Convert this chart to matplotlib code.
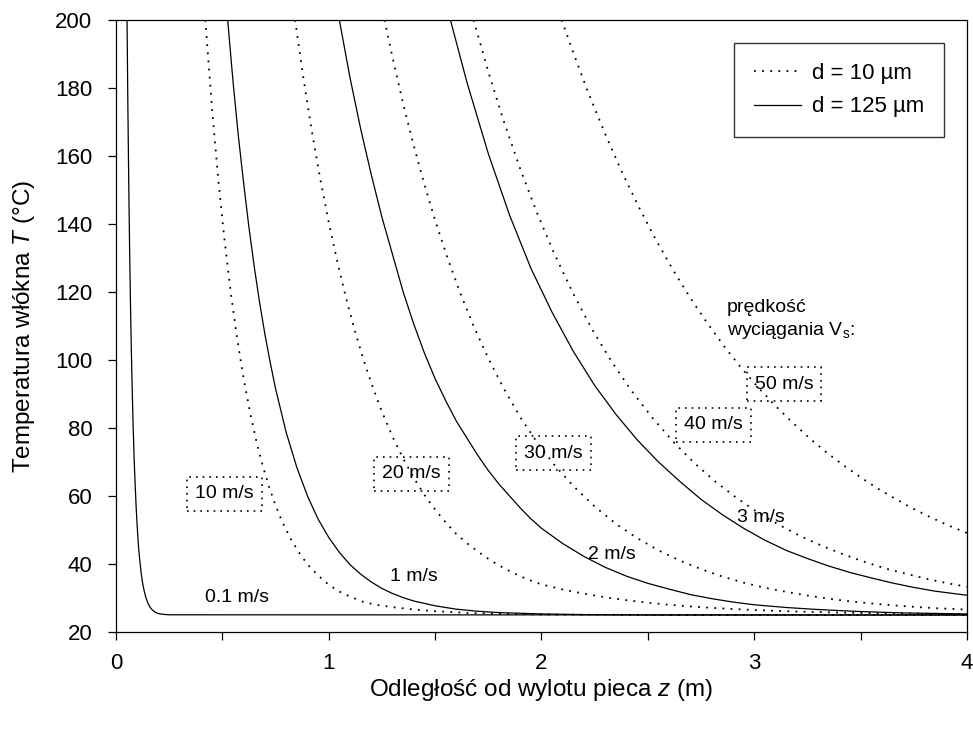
import numpy as np
import matplotlib.pyplot as plt

plt.rcParams['font.family'] = ['Liberation Sans', 'DejaVu Sans']
plt.rcParams['mathtext.fontset'] = 'custom'
plt.rcParams['mathtext.rm'] = 'Liberation Sans'
plt.rcParams['mathtext.it'] = 'Liberation Sans:italic'

# --- fibre d = 125 um (solid): z (m), T (C)
z_01 = [0.052, 0.056, 0.060, 0.064, 0.068, 0.072, 0.076, 0.080, 0.085, 0.090, 0.095,
        0.100, 0.106, 0.112, 0.118, 0.125, 0.132, 0.140, 0.150, 0.160, 0.172, 0.185,
        0.20, 0.22, 0.25, 4.0]
T_01 = [200, 174, 152, 133, 117, 103.5, 92, 82, 71.5, 63.5, 56.5,
        50.7, 45, 41, 37.5, 34.5, 32.2, 30.2, 28.5, 27.3, 26.4, 25.8,
        25.4, 25.2, 25.05, 25]

z_1 = [0.525, 0.55, 0.575, 0.60, 0.625, 0.65, 0.675, 0.70, 0.725, 0.75, 0.80, 0.85,
       0.90, 0.95, 1.00, 1.05, 1.10, 1.15, 1.20, 1.25, 1.30, 1.35, 1.40, 1.50,
       1.60, 1.70, 1.80, 1.90, 2.00, 2.20, 2.50, 4.0]
T_1 = [200, 182, 166, 152, 139, 127.4, 116.9, 107.6, 99.2, 91.6, 78.7, 68.4,
       60, 53.2, 47.8, 43.4, 39.8, 37, 34.7, 32.8, 31.3, 30.1, 29.1, 27.7,
       26.7, 26.1, 25.7, 25.5, 25.3, 25.1, 25.0, 25]

z_2 = [1.05, 1.10, 1.15, 1.20, 1.25, 1.30, 1.35, 1.40, 1.45, 1.50, 1.55, 1.60,
       1.65, 1.70, 1.75, 1.80, 1.85, 1.90, 1.95, 2.00, 2.10, 2.20, 2.30, 2.40,
       2.50, 2.60, 2.70, 2.80, 2.90, 3.00, 3.15, 3.30, 3.50, 3.70, 4.0]
T_2 = [200, 183, 168, 154.5, 142, 131, 120, 110.5, 102, 94.5, 88, 82,
       77, 72, 67.5, 63.5, 60, 56.5, 53.3, 50.5, 46, 42.2, 39, 36.4,
       34.3, 32.6, 31, 29.8, 28.8, 28, 27.2, 26.6, 26, 25.6, 25.3]

z_3 = [1.572, 1.65, 1.75, 1.85, 1.95, 2.05, 2.15, 2.25, 2.35, 2.45, 2.55, 2.65,
       2.75, 2.85, 2.95, 3.05, 3.15, 3.25, 3.35, 3.45, 3.55, 3.65, 3.75, 3.85, 4.0]
T_3 = [200, 181.6, 160.7, 142.6, 127, 114, 102.5, 92.5, 84, 76.5, 70, 64.3,
       59, 54.5, 50.5, 47, 44, 41.6, 39.4, 37.5, 35.9, 34.4, 33.1, 32, 30.8]

# --- fibre d = 10 um (dotted)
z_10 = [0.42, 0.45, 0.48, 0.51, 0.54, 0.57, 0.60, 0.63, 0.66, 0.69, 0.72, 0.75,
        0.78, 0.82, 0.86, 0.90, 0.95, 1.00, 1.05, 1.10, 1.16, 1.22, 1.30, 1.40,
        1.50, 1.65, 1.85, 2.10, 2.50, 4.0]
T_10 = [200, 175, 153.6, 135.3, 119.6, 106.1, 94.5, 84.6, 76.1, 68.8, 62.6, 57.2,
        52.6, 47.5, 43.4, 39.9, 36.6, 33.9, 31.9, 30.4, 28.9, 28, 27.3, 26.6,
        26.1, 25.6, 25.3, 25.1, 25.0, 25]

z_20 = [0.842, 0.88, 0.92, 0.96, 1.00, 1.04, 1.08, 1.12, 1.16, 1.20, 1.25, 1.30,
        1.35, 1.40, 1.45, 1.50, 1.55, 1.60, 1.65, 1.70, 1.75, 1.80, 1.85, 1.90,
        1.95, 2.00, 2.10, 2.20, 2.30, 2.40, 2.50, 2.60, 2.70, 2.80, 2.90, 3.00,
        3.20, 3.40, 3.60, 3.80, 4.0]
T_20 = [200, 183.3, 167.5, 153.3, 140.5, 129, 118.6, 109.2, 100.8, 93.2, 84.8, 77.4,
        71, 65.3, 60.3, 56, 52.2, 48.8, 46.1, 43.7, 41.5, 39.6, 37.9, 36.4,
        35.1, 34, 32.5, 31.25, 30.2, 29.35, 28.6, 28, 27.5, 27.1, 26.75, 26.45,
        26, 25.7, 25.5, 25.35, 25.25]

z_30 = [1.262, 1.30, 1.35, 1.40, 1.45, 1.50, 1.56, 1.62, 1.68, 1.75, 1.82, 1.90,
        1.98, 2.06, 2.15, 2.25, 2.35, 2.45, 2.55, 2.65, 2.75, 2.85, 2.95, 3.05,
        3.15, 3.25, 3.35, 3.45, 3.55, 3.65, 3.75, 3.85, 4.0]
T_30 = [200, 189, 175.3, 163, 151.6, 141.1, 129.7, 119.4, 110.1, 100.5, 91.9, 83.2,
        75.7, 69.2, 62.9, 56.9, 51.8, 47.6, 44, 41, 38.5, 36.3, 34.5, 33,
        31.8, 30.7, 29.8, 29, 28.4, 27.85, 27.4, 27, 26.6]

z_40 = [1.681, 1.75, 1.82, 1.90, 1.98, 2.06, 2.15, 2.24, 2.33, 2.42, 2.52, 2.62,
        2.72, 2.82, 2.92, 3.02, 3.12, 3.22, 3.32, 3.42, 3.52, 3.62, 3.72, 3.82,
        3.91, 4.0]
T_40 = [200, 184.8, 170.7, 156.2, 143.1, 131.3, 119.4, 108.8, 99.5, 91.2, 83.1, 75.9,
        69.6, 64.1, 59.3, 55, 51.4, 48.1, 45.3, 42.8, 40.6, 38.6, 37, 35.5,
        34.3, 33.3]

z_50 = [2.095, 2.15, 2.22, 2.30, 2.38, 2.46, 2.54, 2.62, 2.70, 2.78, 2.86, 2.94,
        3.02, 3.10, 3.18, 3.26, 3.34, 3.42, 3.50, 3.58, 3.66, 3.74, 3.82, 3.91, 4.0]
T_50 = [200, 190.3, 178.6, 166.4, 155, 144.7, 135.1, 126.3, 118.2, 110.8, 103.9, 97.6,
        91.8, 86.5, 81.6, 77, 72.8, 69, 65.5, 62.2, 59.3, 56.5, 54, 51.4, 49.1]

solid_labels = ['0.1 m/s', '1 m/s', '2 m/s', '3 m/s']
solid_label_pos = [(0.57, 30), (1.40, 36.2), (2.33, 42.9), (3.03, 53.8)]
box_labels = ['10 m/s', '20 m/s', '30 m/s', '40 m/s', '50 m/s']
box_label_pos = [(0.508, 60.6), (1.387, 66.5), (2.055, 72.6), (2.81, 80.9), (3.14, 92.9)]

dots = (0, (1, 3.5))

fig = plt.figure(figsize=(9.73, 7.29), dpi=100)
ax = fig.add_axes([0.1192, 0.1331, 0.8746, 0.8395])

for z, T in [(z_01, T_01), (z_1, T_1), (z_2, T_2), (z_3, T_3)]:
    ax.plot(z, T, color='black', linewidth=0.9)
for z, T in [(z_10, T_10), (z_20, T_20), (z_30, T_30), (z_40, T_40), (z_50, T_50)]:
    ax.plot(z, T, color='black', linewidth=1.3, linestyle=dots)

# legend handles only
ax.plot([], [], color='black', linewidth=1.3, linestyle=dots, label='d = 10 µm')
ax.plot([], [], color='black', linewidth=0.9, label='d = 125 µm')

for txt, (x, y) in zip(solid_labels, solid_label_pos):
    ax.text(x, y, txt, fontsize=14, ha='center', va='center')
for txt, (x, y) in zip(box_labels, box_label_pos):
    ax.text(x, y, txt, fontsize=14, ha='center', va='center',
            bbox=dict(boxstyle='square,pad=0.42', fc='none', ec='black',
                      lw=1.2, ls=(0, (1, 3))))

ax.text(2.872, 111.7, 'prędkość\nwyciągania V$_\\mathrm{s}$:', fontsize=14,
        ha='left', va='center', linespacing=1.25)

ax.set_xlim(0, 4)
ax.set_ylim(20, 200)
ax.set_xticks([0, 1, 2, 3, 4])
ax.set_xticks([0.5, 1.5, 2.5, 3.5], minor=True)
ax.set_yticks(np.arange(20, 201, 20))
ax.tick_params(axis='both', which='both', direction='out', length=6, width=0.9,
               labelsize=16)
ax.tick_params(axis='x', pad=9)
ax.tick_params(axis='y', pad=11)
for s in ax.spines.values():
    s.set_linewidth(0.9)

ax.set_xlabel('Odległość od wylotu pieca $z$ (m)', fontsize=17.5, labelpad=2)
ax.set_ylabel('Temperatura włókna $T$ (°C)', fontsize=17.5, labelpad=13)

leg = ax.legend(loc='upper right', bbox_to_anchor=(0.973, 0.962), fontsize=16,
                frameon=True, fancybox=False, edgecolor='black', handlelength=2.1,
                handletextpad=0.5, borderpad=0.9, labelspacing=0.55,
                borderaxespad=0)
leg.get_frame().set_linewidth(1.0)

fig.savefig('out.png', dpi=100)
